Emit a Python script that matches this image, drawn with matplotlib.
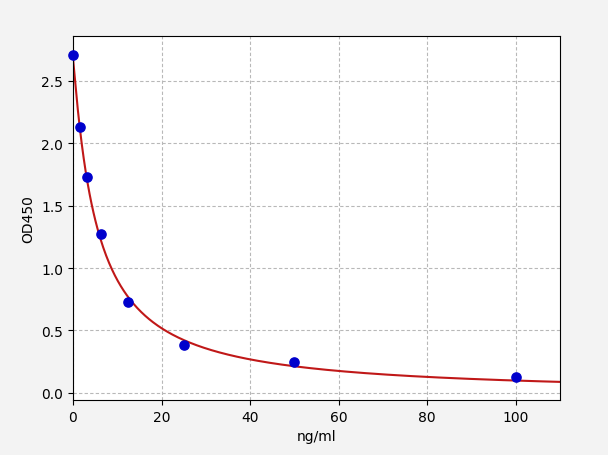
import numpy as np
import matplotlib
matplotlib.use("Agg")
import matplotlib.pyplot as plt

# standard concentrations and measured OD
conc = [0, 1.5625, 3.125, 6.25, 12.5, 25, 50, 100]
od450 = [2.71, 2.13, 1.73, 1.27, 0.73, 0.385, 0.25, 0.128]

# points
curve_x = [0, 1.5625, 3.125, 6.25, 12.5, 20, 25, 40, 50, 60, 80, 100, 110]
curve_y = [2.68, 2.12, 1.72, 1.24, 0.75, 0.51, 0.44, 0.28, 0.215, 0.175, 0.122, 0.096, 0.08]

x_label = "ng/ml"
y_label = "OD450"


def fit_4pl(x, y):
    # grid search over slope/midpoint, solve top/bottom by linear least squares
    x = np.asarray(x, float)
    y = np.asarray(y, float)
    best = None
    for b in np.linspace(0.5, 2.5, 201):
        for c in np.linspace(1.0, 30.0, 291):
            g = 1.0 / (1.0 + (x / c) ** b)
            A = np.column_stack([g, 1 - g])
            coef, *_ = np.linalg.lstsq(A, y, rcond=None)
            err = np.sum((A @ coef - y) ** 2)
            if best is None or err < best[0]:
                best = (err, coef[0], b, c, coef[1])
    return best[1:]


a, b, c, d = fit_4pl(curve_x, curve_y)
xs = np.linspace(0, 110, 500)
ys = d + (a - d) / (1 + (xs / c) ** b)

fig = plt.figure(figsize=(6.08, 4.56), dpi=100, facecolor="#f3f3f3")
ax = fig.add_axes([0.12, 0.121, 0.801, 0.798])
ax.set_facecolor("white")

ax.plot(xs, ys, color="#c01818", lw=1.5, zorder=2)
ax.scatter(conc, od450, color="#0000cc", s=44, zorder=3, clip_on=False)

ax.set_xlim(0, 110)
ax.set_ylim(-0.056, 2.86)
ax.set_xticks([0, 20, 40, 60, 80, 100])
ax.set_yticks([0.0, 0.5, 1.0, 1.5, 2.0, 2.5])
ax.grid(True, ls=(0, (3, 2)), color="#b8b8b8", lw=0.8)
ax.set_axisbelow(True)
ax.set_xlabel(x_label)
ax.set_ylabel(y_label)

fig.savefig("out.png", dpi=100, facecolor=fig.get_facecolor())
